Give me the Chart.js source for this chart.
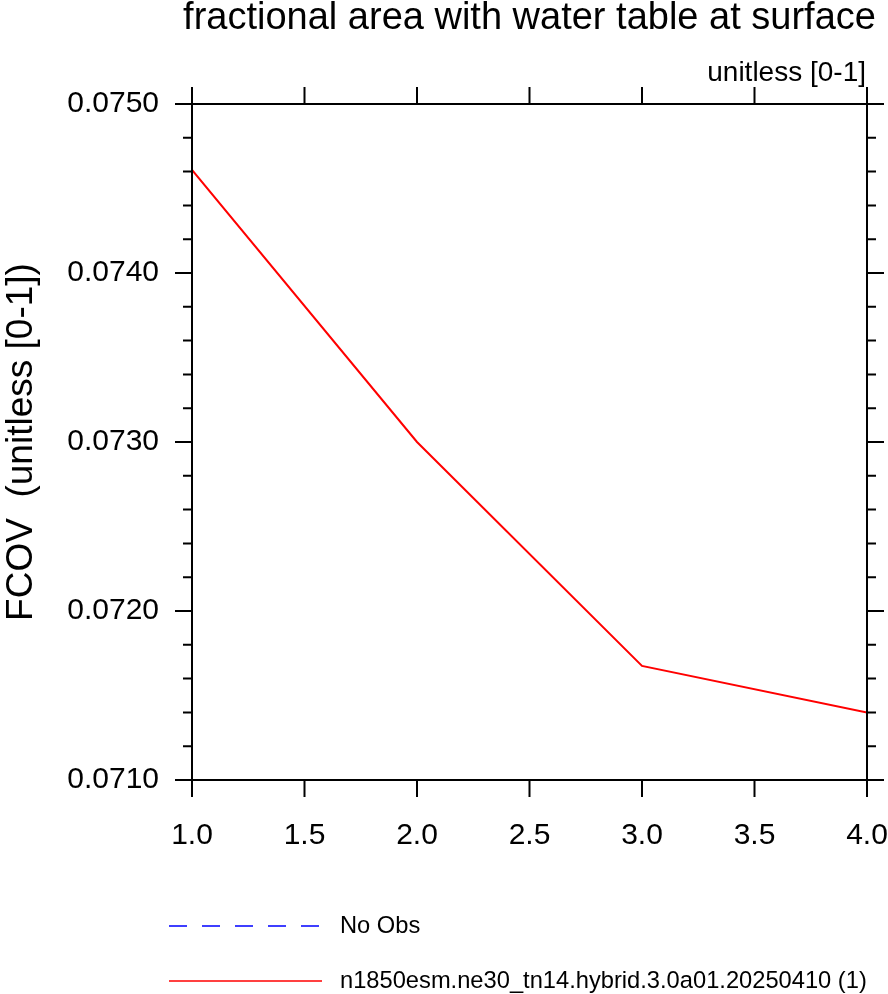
<!DOCTYPE html>
<html>
<head>
<meta charset="utf-8">
<title>FCOV</title>
<script src="https://cdn.jsdelivr.net/npm/chart.js@4.4.1/dist/chart.umd.min.js"></script>
<style>
  html, body { margin: 0; padding: 0; background: #fff; }
  canvas { display: block; }
</style>
</head>
<body>
<canvas id="fcovChart" width="888" height="994"></canvas>
<script>
// values
const years = [1, 2, 3, 4];
const fcovModel = [0.07461, 0.07300, 0.071675, 0.07140];
const fcovObs = [];   // no observations available

const modelLabel = 'n1850esm.ne30_tn14.hybrid.3.0a01.20250410 (1)';
const obsLabel = 'No Obs';
const plotTitle = 'fractional area with water table at surface';
const unitsLabel = 'unitless [0-1]';
const yTitle = 'FCOV  (unitless [0-1])';

const yMin = 0.0710, yMax = 0.0750, yMajor = 0.0010, yMinor = 0.0002;
const xMin = 1, xMax = 4, xStep = 0.5;

const FONT = "'Liberation Sans', Arial, Helvetica, sans-serif";
Chart.defaults.font.family = FONT;
Chart.defaults.color = '#000';

function isMajor(v) {
    const r = v / yMajor;
    return Math.abs(r - Math.round(r)) < 1e-6;
}

// frame, outward ticks, titles and legend, NCL style
const nclFrame = {
    id: 'nclFrame',
    afterDraw(chart) {
        const ctx = chart.ctx;
        const a = chart.chartArea;
        const xs = chart.scales.x, ys = chart.scales.y;
        ctx.save();
        ctx.strokeStyle = '#000';
        ctx.lineWidth = 2;
        ctx.strokeRect(a.left, a.top, a.right - a.left, a.bottom - a.top);

        ctx.beginPath();
        xs.ticks.forEach(t => {
            const px = xs.getPixelForValue(t.value);
            ctx.moveTo(px, a.bottom); ctx.lineTo(px, a.bottom + 17);
            ctx.moveTo(px, a.top); ctx.lineTo(px, a.top - 17);
        });
        ys.ticks.forEach(t => {
            const py = ys.getPixelForValue(t.value);
            const len = isMajor(t.value) ? 17 : 9;
            ctx.moveTo(a.left, py); ctx.lineTo(a.left - len, py);
            ctx.moveTo(a.right, py); ctx.lineTo(a.right + len, py);
        });
        ctx.stroke();

        ctx.fillStyle = '#000';
        ctx.textAlign = 'center';
        ctx.textBaseline = 'alphabetic';
        ctx.font = '38px ' + FONT;
        ctx.fillText(plotTitle, (a.left + a.right) / 2, 29);
        ctx.textAlign = 'right';
        ctx.font = '28px ' + FONT;
        ctx.fillText(unitsLabel, a.right - 1, 81);

        // legend
        ctx.textAlign = 'left';
        ctx.textBaseline = 'middle';
        ctx.font = '23.7px ' + FONT;
        chart.data.datasets.forEach((ds, i) => {
            const y = 926 + i * 55;
            ctx.beginPath();
            ctx.strokeStyle = ds.borderColor;
            ctx.lineWidth = 1.5;
            ctx.setLineDash(ds.borderDash || []);
            ctx.moveTo(169, y); ctx.lineTo(322, y);
            ctx.stroke();
            ctx.setLineDash([]);
            ctx.fillText(ds.label, 340, y);
        });
        ctx.restore();
    }
};

const ctx = document.getElementById('fcovChart').getContext('2d');
new Chart(ctx, {
    type: 'line',
    data: {
        datasets: [{
            label: obsLabel,
            data: fcovObs,
            borderColor: '#0000ff',
            borderDash: [18, 15],
            borderWidth: 1.5,
            pointRadius: 0
        }, {
            label: modelLabel,
            data: years.map((x, i) => ({ x: x, y: fcovModel[i] })),
            borderColor: '#ff0000',
            borderWidth: 2,
            pointRadius: 0,
            tension: 0
        }]
    },
    options: {
        responsive: false,
        animation: false,
        devicePixelRatio: 1,
        layout: { padding: { left: 0, top: 104, right: 21, bottom: 0 } },
        plugins: {
            legend: { display: false },
            title: { display: false },
            tooltip: { enabled: false }
        },
        scales: {
            x: {
                type: 'linear',
                min: xMin,
                max: xMax,
                grid: { display: false, drawTicks: false },
                border: { display: false },
                ticks: {
                    stepSize: xStep,
                    padding: 38,
                    font: { size: 30 },
                    callback: v => v.toFixed(1)
                },
                afterFit(scale) {
                    scale.height = 214;
                    scale.paddingLeft = 0;
                    scale.paddingRight = 0;
                }
            },
            y: {
                type: 'linear',
                min: yMin,
                max: yMax,
                grid: { display: false, drawTicks: false },
                border: { display: false },
                title: {
                    display: true,
                    text: yTitle,
                    font: { size: 37 },
                    padding: { top: 0, bottom: 0 }
                },
                ticks: {
                    stepSize: yMinor,
                    autoSkip: false,
                    padding: 33,
                    font: { size: 30 },
                    callback: v => isMajor(v) ? v.toFixed(4) : ''
                },
                afterFit(scale) {
                    scale.width = 192;
                    scale.paddingTop = 0;
                    scale.paddingBottom = 0;
                }
            }
        }
    },
    plugins: [nclFrame]
});
</script>
</body>
</html>
